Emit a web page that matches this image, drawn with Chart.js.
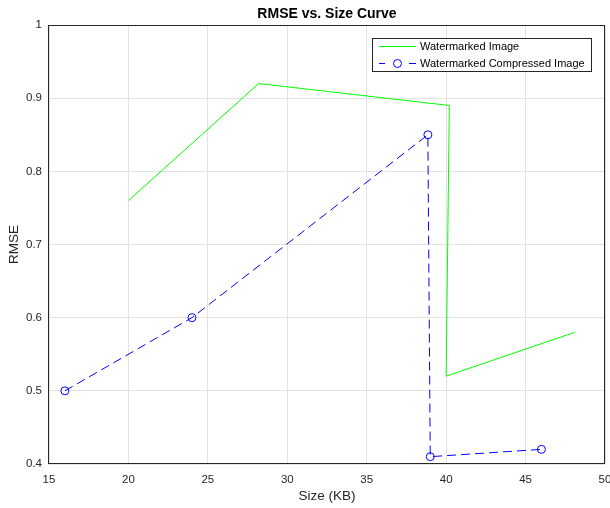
<!DOCTYPE html>
<html><head><meta charset="utf-8">
<script src="https://cdn.jsdelivr.net/npm/chart.js@4/dist/chart.umd.min.js"></script>
<style>html,body{margin:0;padding:0;background:#fff;}#wrap{width:610px;height:508px;}</style>
</head><body><div id="wrap"><canvas id="c" width="610" height="508"></canvas></div>
<script>
const chartTitle = 'RMSE vs. Size Curve';
const xTitle = 'Size (KB)';
const yTitle = 'RMSE';
const seriesNames = ['Watermarked Image', 'Watermarked Compressed Image'];
const wmSize = [20, 28.2, 40.2, 40.0, 48.1];
const wmRmse = [0.76, 0.92, 0.89, 0.52, 0.58];
const compSize = [16, 24, 38.85, 39.0, 46.0];
const compRmse = [0.50, 0.60, 0.85, 0.41, 0.42];
const xTicks = [15, 20, 25, 30, 35, 40, 45, 50];
const yTicks = [0.4, 0.5, 0.6, 0.7, 0.8, 0.9, 1];

const toPts = (xs, ys) => xs.map((x, i) => ({x, y: ys[i]}));
const FONT = 'Liberation Sans, Arial, Helvetica, sans-serif';
const TXT = '#262626';

const frame = {
  id: 'frame',
  afterDraw(chart) {
    const {ctx, chartArea: a} = chart;
    ctx.save();
    ctx.strokeStyle = TXT;
    ctx.lineWidth = 1;
    ctx.strokeRect(Math.round(a.left) - 0.5, Math.round(a.top) + 0.5, Math.round(a.right - a.left), Math.round(a.bottom - a.top) - 1);
    // legend
    const lx = 372.5, ly = 38.5, lw = 219, lh = 33;
    ctx.fillStyle = '#fff';
    ctx.fillRect(lx, ly, lw, lh);
    ctx.strokeRect(lx, ly, lw, lh);
    ctx.font = '11px ' + FONT;
    ctx.fillStyle = '#000';
    ctx.textBaseline = 'middle';
    ctx.textAlign = 'left';
    const ds = chart.data.datasets;
    const rows = [46.5, 63.5];
    ds.forEach((d, i) => {
      const y = rows[i];
      ctx.strokeStyle = d.borderColor;
      ctx.lineWidth = 1;
      ctx.setLineDash([]);
      ctx.beginPath();
      if (d.borderDash) {
        ctx.moveTo(379, y); ctx.lineTo(385, y);
        ctx.moveTo(409, y); ctx.lineTo(416, y);
      } else {
        ctx.moveTo(379, y); ctx.lineTo(416, y);
      }
      ctx.stroke();
      if (d.pointRadius > 0) {
        ctx.beginPath();
        ctx.arc(397.5, y, d.pointRadius, 0, Math.PI * 2);
        ctx.stroke();
      }
      ctx.fillStyle = '#000';
      ctx.fillText(d.label, 420, y);
    });
    ctx.restore();
  }
};

new Chart(document.getElementById('c'), {
  type: 'line',
  data: {
    datasets: [
      {label: seriesNames[0], data: toPts(wmSize, wmRmse), borderColor: '#00ff00', borderWidth: 1, pointRadius: 0, tension: 0, fill: false},
      {label: seriesNames[1], data: toPts(compSize, compRmse), borderColor: '#0000ff', borderWidth: 1, borderDash: [9, 5], pointRadius: 4, pointHoverRadius: 4, pointBorderWidth: 1, pointBorderColor: '#0000ff', pointBackgroundColor: 'rgba(0,0,0,0)', tension: 0, fill: false}
    ]
  },
  options: {
    responsive: false,
    animation: false,
    events: [],
    layout: {padding: {left: 0, right: 4, top: 0, bottom: 0}},
    plugins: {
      legend: {display: false},
      tooltip: {enabled: false},
      title: {display: true, fullSize: false, text: chartTitle, color: '#000', font: {family: FONT, size: 14, weight: 'bold', lineHeight: 1.2}, padding: {top: 6, bottom: 2.2}}
    },
    scales: {
      x: {
        type: 'linear', min: 15, max: 50,
        afterBuildTicks: s => { s.ticks = xTicks.map(v => ({value: v})); },
        afterFit: s => { s.height = 44; s.paddingLeft = 0; s.paddingRight = 0; },
        grid: {color: '#e3e3e3', drawTicks: false},
        border: {display: false},
        ticks: {color: TXT, font: {family: FONT, size: 11.5}, padding: 8.5, maxRotation: 0},
        title: {display: true, text: xTitle, color: TXT, font: {family: FONT, size: 13.5, lineHeight: 1.2}, padding: {top: 0, bottom: 4}}
      },
      y: {
        type: 'linear', min: 0.4, max: 1,
        afterBuildTicks: s => { s.ticks = yTicks.map(v => ({value: v})); },
        afterFit: s => { s.width = 49; s.paddingTop = 0; s.paddingBottom = 0; },
        grid: {color: '#e3e3e3', drawTicks: false},
        border: {display: false},
        ticks: {color: TXT, font: {family: FONT, size: 11.5}, padding: 7, callback: v => String(Number(v.toFixed(1)))},
        title: {display: true, text: yTitle, color: TXT, font: {family: FONT, size: 13.5, lineHeight: 1.2}, padding: {top: 6, bottom: 0}}
      }
    }
  },
  plugins: [frame]
});
</script></body></html>
